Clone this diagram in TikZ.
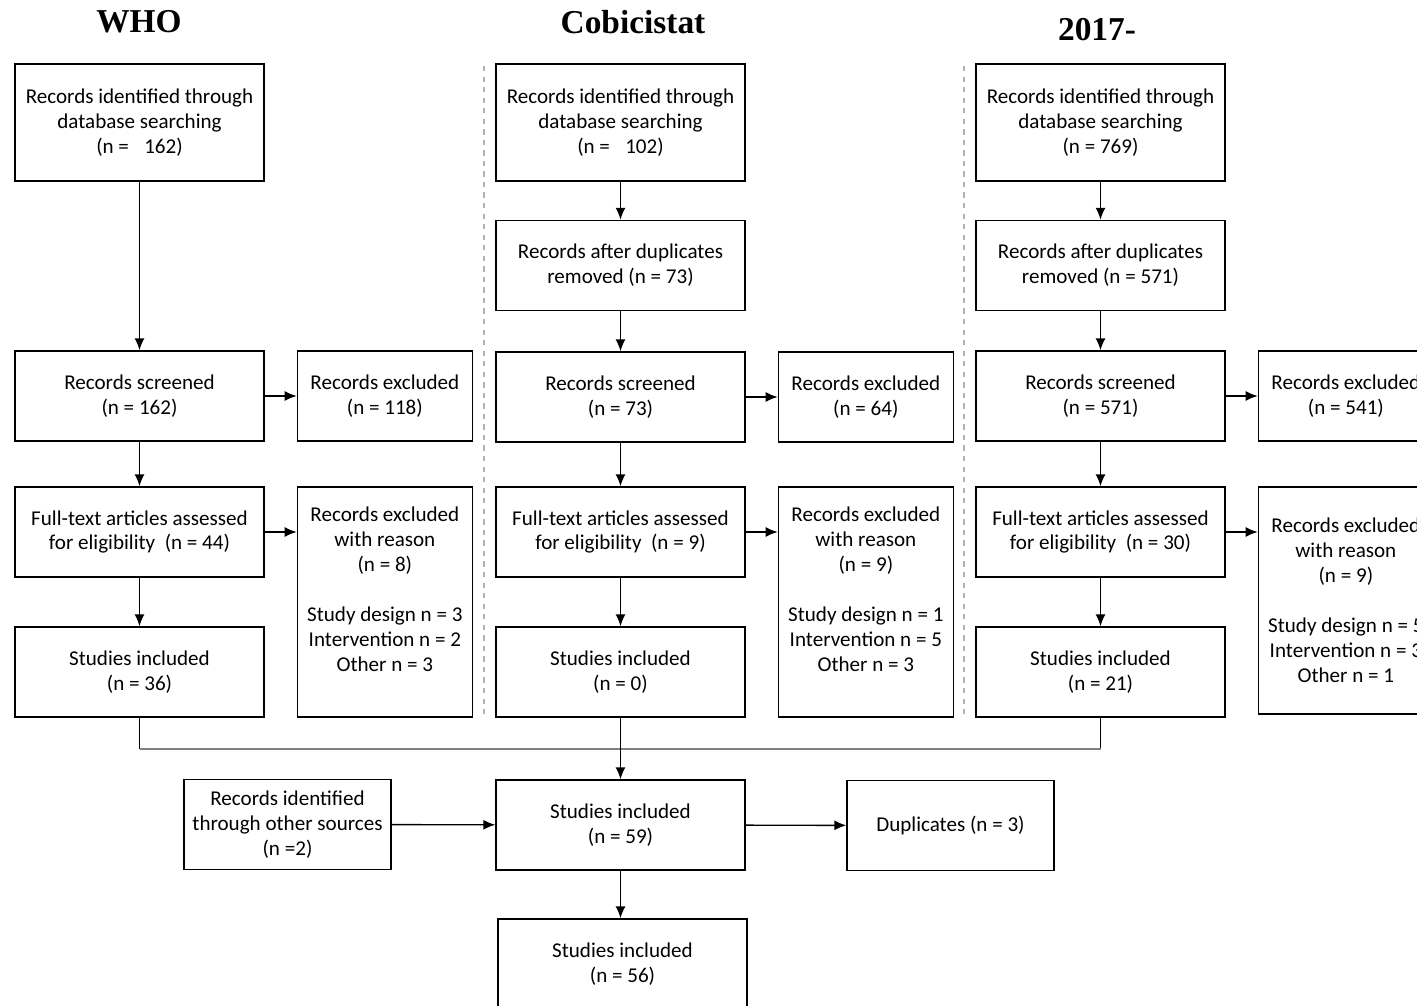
\documentclass[tikz,border=0pt]{standalone}
\usepackage{fontspec}
\setmainfont{Carlito}
\newfontfamily\headfont{Liberation Serif}
\usetikzlibrary{positioning,arrows.meta}

\begin{document}
\begin{tikzpicture}[x=0.02cm, y=-0.02cm, node distance=0.64cm,
    box/.style={draw, line width=0.8pt, minimum width=4.98cm, minimum height=1.8cm, align=center, inner sep=0pt, font=\fontsize{12}{14.2}\selectfont},
    tall/.style={box, minimum height=2.34cm},
    side/.style={box, minimum width=3.5cm},
    why/.style={side, minimum height=4.6cm},
    small/.style={box, minimum width=4.14cm},
    arr/.style={-{Latex[length=2.4mm,width=2mm]}, line width=0.8pt},
    hd/.style={font=\headfont\bfseries\fontsize{19}{22}\selectfont},
    sep/.style={gray!60, dashed, line width=0.6pt}]
	\useasboundingbox (0,0) rectangle (1417,1006);
	\clip (0,0) rectangle (1417,1006);

	\node[hd] (H1) at (139,22) {WHO};
	\node[hd] (H2) at (633,22) {Cobicistat};
	\node[hd] (H3) at (1097,30) {2017-};

	\draw[sep] (484,66) -- (484,717);
	\draw[sep] (964,66) -- (964,717);

	\node[tall] (A1) at (139.5,122.5) {Records identified through\\database searching\\(n = \enspace162)};
	\node[box] (C1) at (139.5,396) {Records screened\\(n = 162)};
	\node[side, right=of C1] (E1) {Records excluded\\(n = 118)};
	\node[box] (F1) at (139.5,532) {Full-text articles assessed\\for eligibility \ (n = 44)};
	\node[why, right=of F1.north east, anchor=north west] (R1) {Records excluded\\with reason\\(n = 8)\\[0.5cm]Study design n = 3\\Intervention n = 2\\Other n = 3\\~};
	\node[box] (S1) at (139.5,672) {Studies included\\(n = 36)};

	\node[tall] (A2) at (620.5,122.5) {Records identified through\\database searching\\(n = \enspace102)};
	\node[box] (D2) at (620.5,265.5) {Records after duplicates\\removed (n = 73)};
	\node[box] (C2) at (620.5,397) {Records screened\\(n = 73)};
	\node[side, right=of C2] (E2) {Records excluded\\(n = 64)};
	\node[box] (F2) at (620.5,532) {Full-text articles assessed\\for eligibility \ (n = 9)};
	\node[why, right=of F2.north east, anchor=north west] (R2) {Records excluded\\with reason\\(n = 9)\\[0.5cm]Study design n = 1\\Intervention n = 5\\Other n = 3\\~};
	\node[box] (S2) at (620.5,672) {Studies included\\(n = 0)};

	\node[tall] (A3) at (1100.5,122.5) {Records identified through\\database searching\\(n = 769)};
	\node[box] (D3) at (1100.5,265.5) {Records after duplicates\\removed (n = 571)};
	\node[box] (C3) at (1100.5,396) {Records screened\\(n = 571)};
	\node[side, right=of C3] (E3) {Records excluded\\(n = 541)};
	\node[box] (F3) at (1100.5,532) {Full-text articles assessed\\for eligibility \ (n = 30)};
	\node[why, minimum height=4.54cm, right=of F3.north east, anchor=north west] (R3) {Records excluded\\with reason\\(n = 9)\\[0.5cm]Study design n = 5\\Intervention n = 3\\Other n = 1};
	\node[box] (S3) at (1100.5,672) {Studies included\\(n = 21)};

	\node[box] (T) at (620.5,825) {Studies included\\(n = 59)};
	\node[small] (O) at (287.5,824.5) {Records identified\\through other sources\\(n =2)};
	\node[small] (P) at (950.5,825.5) {Duplicates (n = 3)};
	\node[box] (Z) at (622.5,964) {Studies included\\(n = 56)};

	\draw[arr] (A1) -- (C1);
	\draw[arr] (C1) -- (E1);
	\draw[arr] (C1) -- (F1);
	\draw[arr] (F1.east) -- (F1.east -| R1.west);
	\draw[arr] (F1) -- (S1);

	\draw[arr] (A2) -- (D2);
	\draw[arr] (D2) -- (C2);
	\draw[arr] (C2) -- (E2);
	\draw[arr] (C2) -- (F2);
	\draw[arr] (F2.east) -- (F2.east -| R2.west);
	\draw[arr] (F2) -- (S2);

	\draw[arr] (A3) -- (D3);
	\draw[arr] (D3) -- (C3);
	\draw[arr] (C3) -- (E3);
	\draw[arr] (C3) -- (F3);
	\draw[arr] (F3.east) -- (F3.east -| R3.west);
	\draw[arr] (F3) -- (S3);

	\coordinate (M) at (620.5,749);
	\draw[line width=0.8pt] (S1.south) -- (S1.south |- M);
	\draw[line width=0.8pt] (S3.south) -- (S3.south |- M);
	\draw[line width=1pt, gray] (S1.south |- M) -- (S3.south |- M);
	\draw[arr] (S2) -- (T);
	\draw[arr] (O) -- (T);
	\draw[arr] (T) -- (P);
	\draw[arr] (T.south) -- (T.south |- Z.north);
\end{tikzpicture}
\end{document}
